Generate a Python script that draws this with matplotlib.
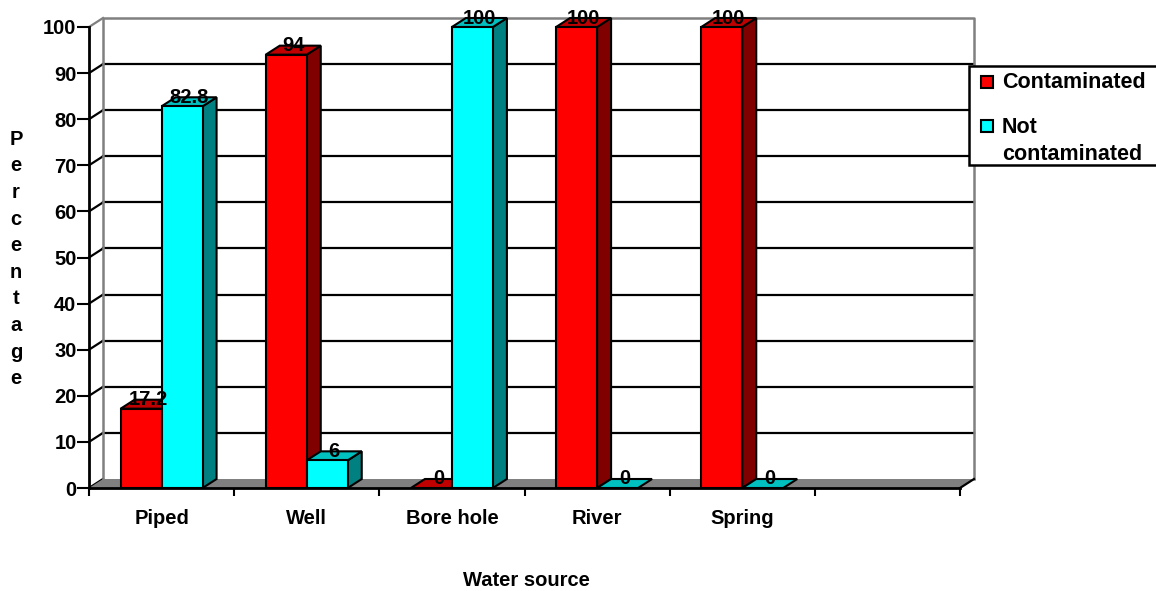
import numpy as np
import matplotlib.pyplot as plt
from matplotlib.patches import Polygon, Rectangle

# Dades llegides del gràfic
categories = ['Piped', 'Well', 'Bore hole', 'River', 'Spring']
contaminated = [17.2, 94, 0, 100, 100]
not_contaminated = [82.8, 6, 100, 0, 0]
series_names = ['Contaminated', 'Not\ncontaminated']
yticks = [0, 10, 20, 30, 40, 50, 60, 70, 80, 90, 100]

W, H = 1156, 591
FS = 14.5
plt.rcParams['font.family'] = ['Liberation Sans', 'DejaVu Sans']
plt.rcParams['font.weight'] = 'bold'

fig = plt.figure(figsize=(W / 100, H / 100), dpi=100)
ax = fig.add_axes([89 / W, (H - 488) / H, 871 / W, 461 / H])

n_slots = len(categories) + 1
ax.set_xlim(0, n_slots)
ax.set_ylim(0, 100)
ax.set_facecolor('none')

# profunditat del efecte 3D (en unitats de dades)
dx = 14 / 145.2
dy = 9 / 4.61
bw = 41 / 145.2

# paret del fons
ax.add_patch(Polygon([(dx, dy), (n_slots + dx, dy), (n_slots + dx, 100 + dy), (dx, 100 + dy)],
                     closed=True, facecolor='white', edgecolor='none', zorder=0))
for v in yticks[1:-1]:
    ax.plot([dx, n_slots + dx], [v + dy, v + dy], color='black', lw=1.6, zorder=1, clip_on=False)
for v in yticks:
    c = 'gray' if v == 100 else 'black'
    ax.plot([0, dx], [v, v + dy], color=c, lw=1.6, zorder=1, clip_on=False)
ax.plot([dx, dx, n_slots + dx, n_slots + dx], [dy, 100 + dy, 100 + dy, dy],
        color='gray', lw=1.8, zorder=1, clip_on=False)

# terra
ax.add_patch(Polygon([(0, 0), (n_slots, 0), (n_slots + dx, dy), (dx, dy)], closed=True,
                     facecolor='#808080', edgecolor='none', zorder=1, clip_on=False))
ax.plot([n_slots, n_slots + dx], [0, dy], color='black', lw=1.6, zorder=1, clip_on=False)

ind = np.arange(len(categories)) + 0.5
series = [(contaminated, '#FF0000', '#C00000', '#800000'),
          (not_contaminated, '#00FFFF', '#00C0C0', '#008080')]

z = 2
for i in range(len(categories)):
    for s, (vals, front, top, side) in enumerate(series):
        x0 = ind[i] - bw + s * bw
        v = vals[i]
        if v > 0:
            ax.add_patch(Polygon([(x0 + bw, 0), (x0 + bw + dx, dy), (x0 + bw + dx, v + dy), (x0 + bw, v)],
                                 closed=True, facecolor=side, edgecolor='black', lw=1.5, zorder=z,
                                 clip_on=False))
        ax.add_patch(Polygon([(x0, v), (x0 + bw, v), (x0 + bw + dx, v + dy), (x0 + dx, v + dy)],
                             closed=True, facecolor=top, edgecolor='black', lw=1.5, zorder=z,
                             clip_on=False))
        if v > 0:
            ax.bar(x0, v, bw, align='edge', color=front, edgecolor='black', lw=1.5, zorder=z,
                   clip_on=False)
        z += 1

# etiquetes de dades
for s, (vals, front, top, side) in enumerate(series):
    for i, v in enumerate(vals):
        xc = ind[i] - bw + s * bw + bw / 2 + dx / 2
        ax.text(xc, v + dy, '{:g}'.format(v), ha='center', va='center', fontsize=FS,
                fontweight='bold', zorder=50, clip_on=False)

# eixos
for side in ['top', 'right']:
    ax.spines[side].set_visible(False)
ax.spines['left'].set_linewidth(2)
ax.spines['bottom'].set_linewidth(2)
ax.spines['left'].set_zorder(40)
ax.spines['bottom'].set_zorder(40)
ax.set_yticks(yticks)
ax.set_yticklabels([str(t) for t in yticks], fontsize=FS, fontweight='bold')
ax.tick_params(axis='y', length=8.5, width=1.5, pad=0.5)
ax.set_xticks(np.arange(n_slots + 1))
ax.set_xticklabels([])
ax.tick_params(axis='x', length=6, width=1.5)
for i, cat in enumerate(categories):
    ax.text(ind[i], -6.6, cat, ha='center', va='center', fontsize=FS, fontweight='bold')

fig.text(526 / W, 1 - 580 / H, 'Water source', ha='center', va='center', fontsize=FS,
         fontweight='bold')
fig.text(16 / W, 1 - 259 / H, '\n'.join('Percentage'), ha='center', va='center', fontsize=FS,
         fontweight='bold', linespacing=1.51, multialignment='center')

# llegenda
fig.add_artist(Rectangle((969 / W, 1 - 165 / H), 200 / W, 99 / H, transform=fig.transFigure,
                         facecolor='white', edgecolor='black', lw=1.8))
for k, (name, color) in enumerate(zip(series_names, ['#FF0000', '#00FFFF'])):
    yc = [82, 126][k]
    yt = [83, 141][k]
    fig.add_artist(Rectangle((981 / W, 1 - (yc + 6) / H), 12 / W, 12 / H, transform=fig.transFigure,
                             facecolor=color, edgecolor='black', lw=1.5))
    fig.text(1002 / W, 1 - yt / H, name, ha='left', va='center', fontsize=15.5,
             fontweight='bold', linespacing=1.43)

fig.savefig('out.png', dpi=100)
